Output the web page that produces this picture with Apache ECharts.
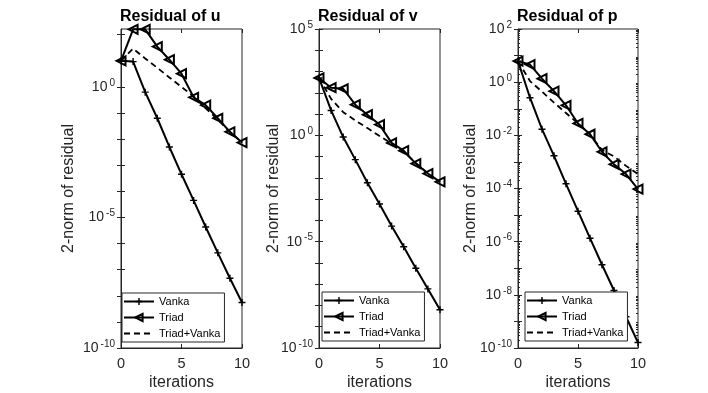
<!DOCTYPE html>
<html>
<head>
<meta charset="utf-8">
<script src="https://cdn.jsdelivr.net/npm/echarts@6/dist/echarts.min.js"></script>
<style>
html, body { margin: 0; padding: 0; background: #fff; }
#main { width: 708px; height: 393px; }
</style>
</head>
<body>
<div id="main"></div>
<script>
// iterations on the x axis
var iterations = [0, 1, 2, 3, 4, 5, 6, 7, 8, 9, 10];
var seriesNames = ['Vanka', 'Triad', 'Triad+Vanka'];
var panelTitles = ['Residual of u', 'Residual of v', 'Residual of p'];

// residual of u
var uVanka = [10, 9.3, 0.63, 0.063, 5.0e-3, 4.5e-4, 4.5e-5, 4.3e-6, 4.4e-7, 4.7e-8, 5.5e-9];
var uTriad = [10, 160, 160, 35, 11, 3.2, 0.40, 0.20, 0.063, 0.019, 7.4e-3];
var uTriadVanka = [10, 29, 12.3, 5.4, 2.3, 1.0, 0.43, 0.15, 0.056, 0.019, 7.4e-3];

// residual of v
var vVanka = [500, 14.8, 0.83, 0.072, 5.9e-3, 5.9e-4, 5.4e-5, 5.8e-6, 5.6e-7, 6.0e-8, 6.3e-9];
var vTriad = [500, 174, 155, 27.5, 9.3, 3.2, 0.44, 0.19, 0.047, 0.016, 6.5e-3];
var vTriadVanka = [500, 52, 12.3, 5.0, 2.2, 0.93, 0.41, 0.166, 0.050, 0.0166, 6.3e-3];

// residual of p
var pVanka = [6.2, 0.26, 0.017, 1.7e-3, 1.5e-4, 1.4e-5, 1.35e-6, 1.35e-7, 1.45e-8, 1.5e-9, 1.6e-10];
var pTriad = [6.2, 4.6, 1.35, 0.46, 0.135, 0.028, 0.011, 2.4e-3, 8.1e-4, 3.5e-4, 9.5e-5];
var pTriadVanka = [6.2, 1.1, 0.44, 0.17, 0.069, 0.028, 0.011, 2.8e-3, 1.6e-3, 7.1e-4, 3.5e-4];

// y range and labelled exponents for each panel
var yMin = [1e-10, 1e-10, 1e-10];
var yMax = [165, 1e5, 1e2];
var yLabelExp = [[-10, -5, 0], [-10, -5, 0, 5], [-10, -8, -6, -4, -2, 0, 2]];

var panelData = [
    [uVanka, uTriad, uTriadVanka],
    [vVanka, vTriad, vTriadVanka],
    [pVanka, pTriad, pTriadVanka]
];

var FONT = '"Liberation Sans", Arial, sans-serif';
var AX = '#262626';
var plusPath = 'path://M4,0H6V4H10V6H6V10H4V6H0V4H4Z';

var gridPos = [
    {left: 121, top: 29, width: 121, height: 319},
    {left: 319, top: 29, width: 121, height: 319},
    {left: 518, top: 29, width: 120, height: 319}
];
var yNameGap = [44, 37, 39];
var legendPos = [[122, 293], [322, 292], [525, 292]];

function pairs(ys) {
    return iterations.map(function (x, i) { return [x, ys[i]]; });
}

function decades(lo, hi) {
    var out = [];
    for (var e = lo; e <= hi; e++) out.push(Math.pow(10, e));
    return out;
}

function minors(lo, hi) {
    var out = [];
    for (var e = lo; e < hi; e++) {
        for (var k = 2; k <= 9; k++) out.push(k * Math.pow(10, e));
    }
    return out;
}

function expLabel(v) {
    var e = Math.round(Math.log(v) / Math.LN10);
    return '{b|10}{e|' + e + '}';
}

var richLabel = {
    b: {fontSize: 14, color: AX, fontFamily: FONT},
    e: {fontSize: 10, color: AX, fontFamily: FONT, padding: [0, 0, 8, 2], verticalAlign: 'bottom'}
};

var grids = [], xAxes = [], yAxes = [], series = [], titles = [], legends = [];

for (var p = 0; p < 3; p++) {
    grids.push({
        left: gridPos[p].left, top: gridPos[p].top,
        width: gridPos[p].width, height: gridPos[p].height,
        outerBoundsMode: 'none', containLabel: false,
        show: true, borderColor: AX, borderWidth: 1, backgroundColor: '#fff'
    });
    titles.push({
        text: panelTitles[p], left: gridPos[p].left - 1, top: 9, padding: 0,
        textStyle: {fontSize: 16, fontWeight: 'bold', color: '#000', fontFamily: FONT}
    });

    var loE = Math.round(Math.log(yMin[p]) / Math.LN10);
    var hiE = Math.floor(Math.log(yMax[p]) / Math.LN10 + 1e-9);
    var decadeTicks = decades(loE, hiE);
    var labelVals = yLabelExp[p].map(function (e) { return Math.pow(10, e); });

    // bottom x axis
    xAxes.push({
        gridIndex: p, type: 'value', min: 0, max: 10, interval: 5,
        name: 'iterations', nameLocation: 'middle', nameGap: 27, nameMoveOverlap: false,
        nameTextStyle: {fontSize: 16, color: AX, fontFamily: FONT},
        axisLine: {lineStyle: {color: AX}},
        axisTick: {inside: true, length: 4, lineStyle: {color: AX}},
        axisLabel: {fontSize: 14.5, color: AX, fontFamily: FONT, margin: 8},
        splitLine: {show: false}
    });
    // left y axis with labels
    yAxes.push({
        gridIndex: p, type: 'log', logBase: 10, min: yMin[p], max: yMax[p],
        name: '2-norm of residual', nameLocation: 'middle', nameGap: yNameGap[p], nameMoveOverlap: false,
        nameTextStyle: {fontSize: 16, color: AX, fontFamily: FONT},
        axisLine: {lineStyle: {color: AX}},
        axisTick: {inside: true, length: 4, lineStyle: {color: AX}, customValues: decadeTicks},
        axisLabel: {margin: 6, formatter: expLabel, rich: richLabel, customValues: labelVals},
        splitLine: {show: false}
    });

    var lines = panelData[p];
    series.push({
        name: seriesNames[0], type: 'line', xAxisIndex: p, yAxisIndex: p,
        data: pairs(lines[0]), symbol: plusPath, symbolSize: 7,
        lineStyle: {color: '#000', width: 2},
        itemStyle: {color: '#000'}, z: 3
    });
    series.push({
        name: seriesNames[1], type: 'line', xAxisIndex: p, yAxisIndex: p,
        data: pairs(lines[1]), symbol: 'triangle', symbolRotate: 90, symbolSize: 9,
        lineStyle: {color: '#000', width: 2},
        itemStyle: {color: 'rgba(0,0,0,0)', borderColor: '#000', borderWidth: 2}, z: 4
    });
    series.push({
        name: seriesNames[2], type: 'line', xAxisIndex: p, yAxisIndex: p,
        data: pairs(lines[2]), symbol: 'none', showSymbol: false,
        lineStyle: {color: '#000', width: 1.8, type: [6, 4]},
        itemStyle: {color: 'rgba(0,0,0,0)', borderWidth: 0}, z: 5
    });

    legends.push({
        left: legendPos[p][0], top: legendPos[p][1], orient: 'vertical',
        data: seriesNames, selectedMode: false,
        itemWidth: 30, itemHeight: 9, itemGap: 5,
        padding: [3, 4, 3, 1],
        borderColor: AX, borderWidth: 1, backgroundColor: '#fff',
        textStyle: {fontSize: 11, color: '#000', fontFamily: FONT}
    });
}

// mirrored ticks on the top and right edges, and minor ticks for p
for (var q = 0; q < 3; q++) {
    var lo = Math.round(Math.log(yMin[q]) / Math.LN10);
    var hi = Math.floor(Math.log(yMax[q]) / Math.LN10 + 1e-9);
    xAxes.push({
        gridIndex: q, type: 'value', min: 0, max: 10, interval: 5, position: 'top',
        axisLine: {show: false},
        axisTick: {inside: true, length: 4, lineStyle: {color: AX}},
        axisLabel: {show: false}, splitLine: {show: false}
    });
    yAxes.push({
        gridIndex: q, type: 'log', logBase: 10, min: yMin[q], max: yMax[q], position: 'right',
        axisLine: {show: false},
        axisTick: {inside: true, length: 4, lineStyle: {color: AX}, customValues: decades(lo, hi)},
        axisLabel: {show: false}, splitLine: {show: false}
    });
}
['left', 'right'].forEach(function (side) {
    yAxes.push({
        gridIndex: 2, type: 'log', logBase: 10, min: yMin[2], max: yMax[2], position: side,
        axisLine: {show: false},
        axisTick: {inside: true, length: 2, lineStyle: {color: AX}, customValues: minors(-10, 2)},
        axisLabel: {show: false}, splitLine: {show: false}
    });
});

var myChart = echarts.init(document.getElementById('main'), null, {renderer: 'canvas'});
myChart.setOption({
    backgroundColor: '#fff',
    animation: false,
    title: titles,
    legend: legends,
    grid: grids,
    xAxis: xAxes,
    yAxis: yAxes,
    series: series
});
</script>
</body>
</html>
